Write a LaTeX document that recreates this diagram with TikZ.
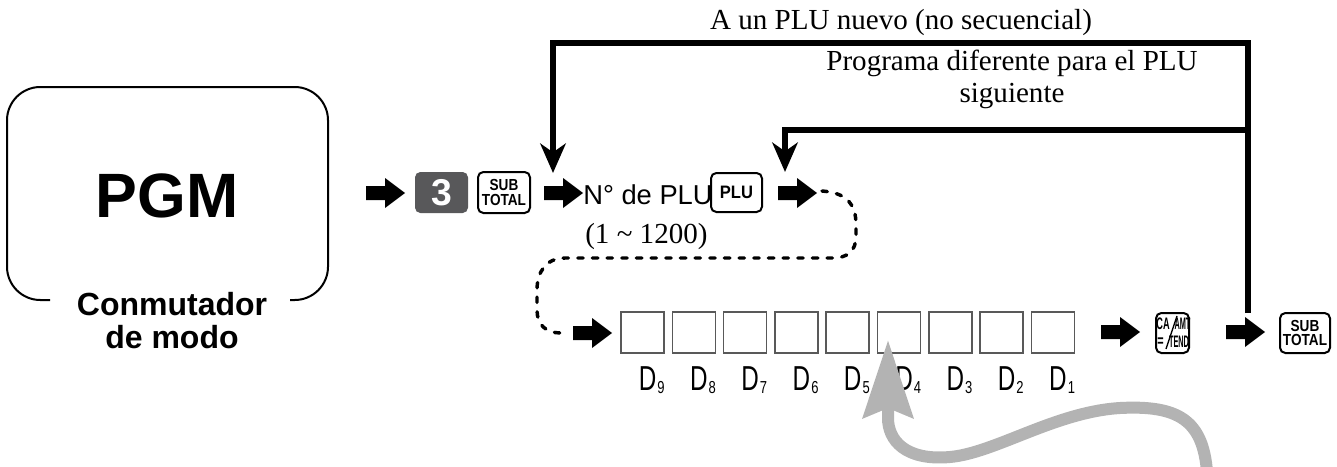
\documentclass[tikz,border=0pt]{standalone}
\usepackage{fontspec}
\usepackage{graphicx}
\setmainfont{Liberation Serif}
\setsansfont{Liberation Sans}
\usetikzlibrary{arrows.meta}
\definecolor{keygray}{HTML}{58585A}
\definecolor{wavegray}{HTML}{B3B3B3}
\newcommand{\sqz}[2]{\scalebox{#1}[1]{#2}}
\begin{document}
\begin{tikzpicture}[x=0.75pt,y=-0.75pt,
  blk/.pic={\fill (0,0) -- (-20,-15) -- (-20,-7) -- (-39,-7) -- (-39,7) -- (-20,7) -- (-20,15) -- cycle;},
  sertext/.style={font=\fontsize{21.8}{26}\selectfont, inner sep=0pt},
  sanstext/.style={font=\sffamily\fontsize{20.5}{24}\selectfont, inner sep=0pt},
  keybox/.style={draw, line width=1.5pt, rounded corners=4pt, inner sep=0pt, align=center,
     font=\sffamily\bfseries\fontsize{12}{11.2}\selectfont},
  digitbox/.style={draw=black!65, line width=1.1pt, minimum width=32.25pt, minimum height=30.75pt, inner sep=0pt},
  dlabel/.style={inner sep=0pt, anchor=base west, font=\sffamily},
  camt/.style={inner sep=0pt, font=\sffamily\bfseries\fontsize{12.5}{12.5}\selectfont},
  loopline/.style={line width=4.5pt, line join=miter, -{Stealth[length=22pt,width=19pt,inset=6.5pt]}},
  dotline/.style={line width=2.6pt, dash pattern=on 4pt off 7pt, line cap=round}
]
\useasboundingbox (0,0) rectangle (1337,467);

% mode switch
\draw[line width=1.5pt, rounded corners=25pt] (50,300) -- (7,300) -- (7,87) -- (328,87) -- (328,300) -- (290,300);
\node[inner sep=0pt, anchor=base, font=\sffamily\bfseries\fontsize{47}{50}\selectfont] (pgm) at (167,217) {PGM};
\node[inner sep=0pt, anchor=base, font=\sffamily\bfseries\fontsize{24}{28}\selectfont] (conm) at (172,315) {Conmutador};
\node[inner sep=0pt, anchor=base, font=\sffamily\bfseries\fontsize{24}{28}\selectfont] (demodo) at (172,348) {de modo};

% first row
\pic at (405,193) {blk};
\node[fill=keygray, rounded corners=4pt, minimum width=39.75pt, minimum height=30.75pt, inner sep=0pt,
      text=white, font=\sffamily\bfseries\fontsize{28}{28}\selectfont] (k3) at (441.5,192.5) {3};
\node[keybox, minimum width=39pt, minimum height=30.75pt] (sub1) at (504,192.5) {\sqz{0.85}{SUB}\\\sqz{0.85}{TOTAL}};
\pic at (583,193) {blk};
\node[sanstext, anchor=base west] (nplu) at (583,204) {N° de PLU};
\node[keybox, minimum width=38.25pt, minimum height=29.25pt, font=\sffamily\bfseries\fontsize{13.5}{13.5}\selectfont] (plu) at (736.5,192.5) {\sqz{0.92}{PLU}};
\node[sertext, anchor=base west] (range) at (585,243) {(1 \textasciitilde{} 1200)};
\pic at (817,193) {blk};

% loops
\node[sertext, anchor=base] (lab1) at (901,30) {A un PLU nuevo (no secuencial)};
\node[sertext, anchor=base] (lab2a) at (1012,70) {Programa diferente para el PLU};
\node[sertext, anchor=base] (lab2b) at (1012,102) {siguiente};
\coordinate (vbot) at (1248,313);
\coordinate (vtop) at (1248,43);
\coordinate (ltop) at (553,43);
\coordinate (tipA) at (553,173);
\coordinate (vmid) at (1248,130);
\coordinate (lmid) at (785,130);
\coordinate (tipB) at (785,172);
\draw[loopline] (vbot) -- (vtop) -- (ltop) -- (tipA);
\draw[loopline] (vmid) -- (lmid) -- (tipB);

% dotted connector
\coordinate (dstart) at (822,191);
\coordinate (dend) at (561,333);
\draw[dotline] (dstart) .. controls (848,193) and (856,205) .. (856,225) -- (856,236)
   .. controls (856,251) and (848,258) .. (832,258) -- (565,258)
   .. controls (546,258) and (537,272) .. (537,290) -- (537,310)
   .. controls (537,325) and (546,333) .. (dend);

% digit row
\pic at (612,333) {blk};
\foreach \i/\d in {0/9,1/8,2/7,3/6,4/5,5/4,6/3,7/2,8/1}{
  \pgfmathsetmacro{\cx}{642.5+\i*51.3}
  \node[digitbox] (d\d) at (\cx,332.5) {};
  \node[dlabel] (ld\d) at (\cx-4,390) {\sqz{0.7}{\fontsize{26}{26}\selectfont D}\hspace{0.8pt}\sqz{0.75}{\fontsize{13}{13}\selectfont\raisebox{-2.8pt}{\d}}};
}

\pic at (1140,332) {blk};
\node[draw, line width=1.5pt, rounded corners=4pt, minimum width=24.75pt, minimum height=30pt, inner sep=0pt] (ca) at (1172.5,333) {};
\node[camt] (caA) at (1163,323.5) {\sqz{0.55}{CA}};
\node[camt] (caB) at (1182.5,323.5) {\sqz{0.44}{AMT}};
\node[camt] (caC) at (1160.5,342) {\sqz{0.65}{=}};
\node[camt] (caD) at (1179,342) {\sqz{0.44}{TEND}};
\coordinate (slb) at (1166,349);
\coordinate (slt) at (1177,316);
\draw[line width=1pt] (slb) -- (slt);
\pic at (1265,332) {blk};
\node[keybox, minimum width=37.5pt, minimum height=30pt] (sub2) at (1305,333) {\sqz{0.85}{SUB}\\\sqz{0.85}{TOTAL}};

% gray arrow
\coordinate (gstart) at (1207,472);
\coordinate (gtip) at (888,340);
\draw[wavegray, line width=9pt, -{Stealth[length=58pt,width=37pt,inset=7pt]}]
  (gstart) .. controls (1203,420) and (1178,405) .. (1120,408)
  .. controls (1055,412) and (995,453) .. (950,457)
  .. controls (905,461) and (888,440) .. (888,418) -- (gtip);
\end{tikzpicture}
\end{document}
